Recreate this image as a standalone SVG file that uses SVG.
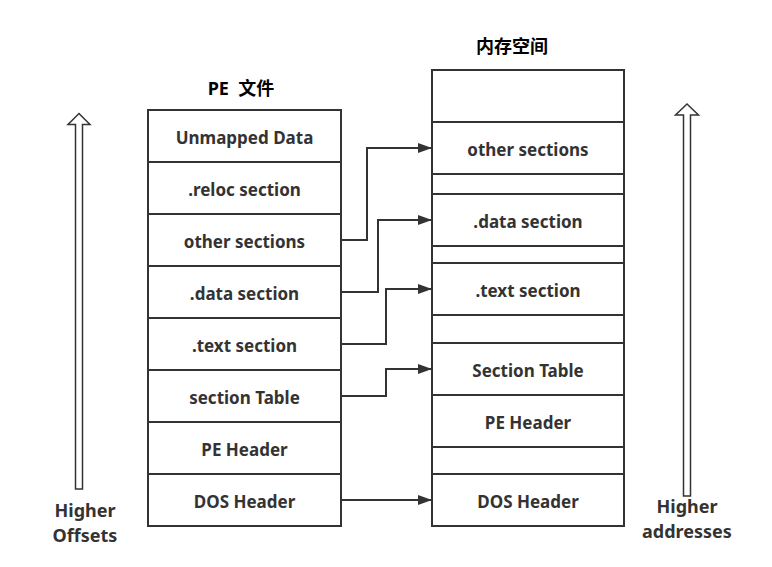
<svg xmlns="http://www.w3.org/2000/svg" width="772" height="567" viewBox="0 0 772 567">
<style>
.box{fill:#fff;stroke:#333;stroke-width:2}
.t{font-family:"Noto Sans","Noto Sans CJK SC",sans-serif;font-weight:bold;font-size:17px;fill:#333;text-anchor:middle}
.title{font-family:"Noto Sans","Noto Sans CJK SC",sans-serif;font-weight:bold;font-size:18px;fill:#000;text-anchor:middle}
.side{font-family:"Noto Sans","Noto Sans CJK SC",sans-serif;font-weight:bold;font-size:18px;fill:#333;text-anchor:middle}
.conn{fill:none;stroke:#333;stroke-width:2}
.hollow{fill:#fff;stroke:#333;stroke-width:1.5}
</style>
<defs>
<marker id="arr" viewBox="0 0 14 10" refX="14" refY="5" markerWidth="14" markerHeight="10" markerUnits="userSpaceOnUse" orient="auto">
<path d="M0,0 L14,5 L0,10 Z" fill="#333"/>
</marker>
</defs>
<rect width="772" height="567" fill="#fff"/>
<text class="title" x="241" y="95" xml:space="preserve">PE  文件</text>
<text class="title" x="512" y="53">内存空间</text>
<g id="pe-file">
<g id="pe-unmapped"><rect class="box" x="148" y="110" width="193" height="52"/><text class="t" x="244.5" y="144">Unmapped Data</text></g>
<g id="pe-reloc"><rect class="box" x="148" y="162" width="193" height="52"/><text class="t" x="244.5" y="196">.reloc section</text></g>
<g id="pe-other"><rect class="box" x="148" y="214" width="193" height="52"/><text class="t" x="244.5" y="248">other sections</text></g>
<g id="pe-data"><rect class="box" x="148" y="266" width="193" height="52"/><text class="t" x="244.5" y="300">.data section</text></g>
<g id="pe-text"><rect class="box" x="148" y="318" width="193" height="52"/><text class="t" x="244.5" y="352">.text section</text></g>
<g id="pe-sectable"><rect class="box" x="148" y="370" width="193" height="52"/><text class="t" x="244.5" y="404">section Table</text></g>
<g id="pe-peheader"><rect class="box" x="148" y="422" width="193" height="52"/><text class="t" x="244.5" y="456">PE Header</text></g>
<g id="pe-dosheader"><rect class="box" x="148" y="474" width="193" height="52"/><text class="t" x="244.5" y="508">DOS Header</text></g>
</g>
<g id="memory">
<g id="mem-top"><rect class="box" x="432" y="70" width="192" height="52"/></g>
<g id="mem-other"><rect class="box" x="432" y="122" width="192" height="52"/><text class="t" x="528" y="156">other sections</text></g>
<g id="mem-gap1"><rect class="box" x="432" y="174" width="192" height="20"/></g>
<g id="mem-data"><rect class="box" x="432" y="194" width="192" height="52"/><text class="t" x="528" y="228">.data section</text></g>
<g id="mem-gap2"><rect class="box" x="432" y="246" width="192" height="17"/></g>
<g id="mem-text"><rect class="box" x="432" y="263" width="192" height="52"/><text class="t" x="528" y="297">.text section</text></g>
<g id="mem-gap3"><rect class="box" x="432" y="315" width="192" height="28"/></g>
<g id="mem-sectable"><rect class="box" x="432" y="343" width="192" height="52"/><text class="t" x="528" y="377">Section Table</text></g>
<g id="mem-peheader"><rect class="box" x="432" y="395" width="192" height="52"/><text class="t" x="528" y="429">PE Header</text></g>
<g id="mem-gap4"><rect class="box" x="432" y="447" width="192" height="27"/></g>
<g id="mem-dosheader"><rect class="box" x="432" y="474" width="192" height="52"/><text class="t" x="528" y="508">DOS Header</text></g>
</g>
<g id="connectors">
<polyline class="conn" points="341,240 367,240 367,148 432,148" marker-end="url(#arr)"/>
<polyline class="conn" points="341,292 378,292 378,220 432,220" marker-end="url(#arr)"/>
<polyline class="conn" points="341,344 386,344 386,289 432,289" marker-end="url(#arr)"/>
<polyline class="conn" points="341,396 386,396 386,369 432,369" marker-end="url(#arr)"/>
<line class="conn" x1="341" y1="500" x2="432" y2="500" marker-end="url(#arr)"/>
</g>
<g id="offsets-arrow">
<path class="hollow" d="M75.5,489 L75.5,124.5 L68,124.5 L79,113.5 L90,124.5 L82.5,124.5 L82.5,489 Z"/>
<text class="side" x="85" y="517"><tspan x="85">Higher</tspan><tspan x="85" dy="25">Offsets</tspan></text>
</g>
<g id="addresses-arrow">
<path class="hollow" d="M683.5,496 L683.5,115 L675.5,115 L687,104 L698.5,115 L690.5,115 L690.5,496 Z"/>
<text class="side" x="687" y="513"><tspan x="687">Higher</tspan><tspan x="687" dy="25">addresses</tspan></text>
</g>
</svg>
